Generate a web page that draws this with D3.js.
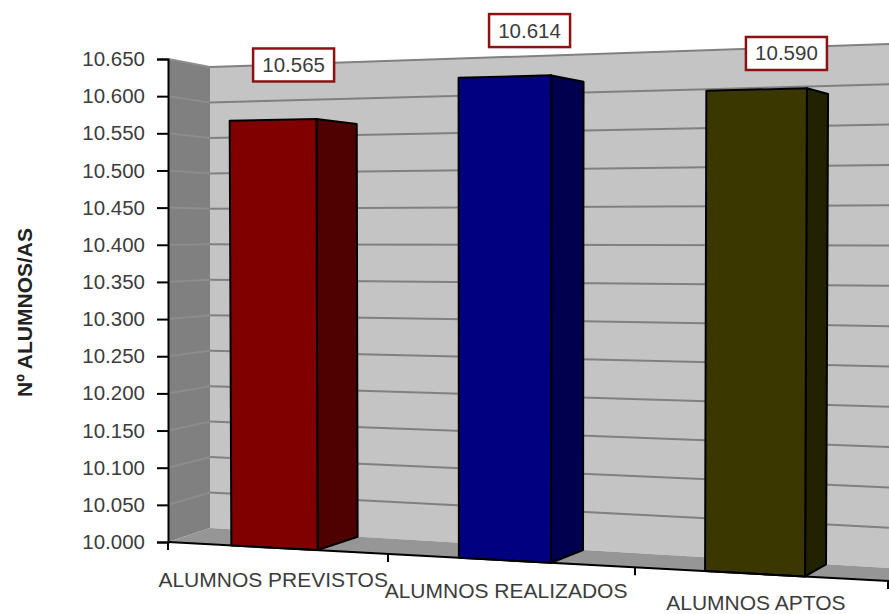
<!DOCTYPE html>
<html>
<head>
<meta charset="utf-8">
<script src="https://cdn.jsdelivr.net/npm/d3@7"></script>
<style>
  html, body { margin: 0; padding: 0; background: #fff; overflow: hidden; }
  text { font-family: "Liberation Sans", Arial, sans-serif; }
</style>
</head>
<body>
<svg id="chart" width="889" height="614"></svg>
<script>
// ============ data ============
const categories = ['ALUMNOS PREVISTOS', 'ALUMNOS REALIZADOS', 'ALUMNOS APTOS'];
const values = [10565, 10614, 10590];
const yTicks = [10000, 10050, 10100, 10150, 10200, 10250, 10300, 10350, 10400, 10450, 10500, 10550, 10600, 10650];

const frontColors = ['#800000', '#000080', '#3a3800'];
const sideColors = ['#4f0000', '#00004f', '#222200'];

const width = 889;
const height = 614;
const svg = d3.select('#chart');

const fmt = d3.formatLocale({ decimal: ',', thousands: '.', grouping: [3], currency: ['', ''] }).format(',.0f');

// ============ fake 3D projection ============
// value -> height fraction
const frac = d3.scaleLinear().domain([10000, 10650]).range([0, 1]);
// category slot -> x on the front edge of the floor
const xSlot = d3.scaleLinear().domain([0, 1, 2, 3]).range([168, 388, 635, 888]);
// front x -> x where the same point meets the back wall
const toBack = d3.scaleLinear().domain([168, 318, 551, 805]).range([210, 358, 583, 826]);

const frontBase = d3.scaleLinear().domain([168, 889]).range([542, 581]);
const frontTop = d3.scaleLinear().domain([168, 889]).range([59, 36]);
const backBase = d3.scaleLinear().domain([210, 889]).range([528, 568]);
const backTop = d3.scaleLinear().domain([210, 889]).range([67, 44]);

const frontY = (x, v) => d3.interpolateNumber(frontBase(x), frontTop(x))(frac(v));
const backY = (x, v) => d3.interpolateNumber(backBase(x), backTop(x))(frac(v));

const path = d3.line();
const poly = pts => path(pts) + 'Z';

// ============ walls and floor ============
const vMin = yTicks[0];
const vMax = yTicks[yTicks.length - 1];
const xL = xSlot(0);
const xB = toBack(xL);
const xR = width + 2;

svg.append('path').attr('fill', '#c4c4c4')
  .attr('d', poly([[xB, backY(xB, vMax)], [xR, backY(xR, vMax)], [xR, backY(xR, vMin)], [xB, backY(xB, vMin)]]));
svg.append('path').attr('fill', '#808080')
  .attr('d', poly([[xL, frontY(xL, vMax)], [xB, backY(xB, vMax)], [xB, backY(xB, vMin)], [xL, frontY(xL, vMin)]]));
svg.append('path').attr('fill', '#969696')
  .attr('d', poly([[xL, frontY(xL, vMin)], [xB, backY(xB, vMin)], [xR, backY(xR, vMin)], [xR, frontY(xR, vMin)]]));

// gridlines on back wall and side wall
svg.append('g').selectAll('line')
  .data(yTicks.slice(1))
  .join('line')
  .attr('x1', xB).attr('y1', d => backY(xB, d))
  .attr('x2', xR).attr('y2', d => backY(xR, d))
  .attr('stroke', '#808080').attr('stroke-width', 2);
svg.append('g').selectAll('line')
  .data(yTicks.slice(1))
  .join('line')
  .attr('x1', xL).attr('y1', d => frontY(xL, d))
  .attr('x2', xB).attr('y2', d => backY(xB, d))
  .attr('stroke', '#8c8c8c').attr('stroke-width', 2);

// ============ bars ============
const barStart = [0.288, 0.287, 0.277];
const barEnd = [0.68, 0.66, 0.672];
const leanAt = 505;
const lean = (x, v) => x + (x - leanAt) * 0.007 * frac(v);

categories.forEach((name, i) => {
  const v = values[i];
  const slotW = xSlot(i + 1) - xSlot(i);
  const x0 = xSlot(i) + slotW * barStart[i];
  const x1 = xSlot(i) + slotW * barEnd[i];
  const bx = toBack(x1);

  // side face
  svg.append('path')
    .attr('d', poly([[lean(x1, v), frontY(x1, v)], [lean(bx, v), backY(bx, v)], [bx, backY(bx, vMin)], [x1, frontY(x1, vMin)]]))
    .attr('fill', sideColors[i]).attr('stroke', '#000').attr('stroke-width', 2).attr('stroke-linejoin', 'round');
  // front face
  svg.append('path')
    .attr('d', poly([[lean(x0, v), frontY(x0, v)], [lean(x1, v), frontY(x1, v)], [x1, frontY(x1, vMin)], [x0, frontY(x0, vMin)]]))
    .attr('fill', frontColors[i]).attr('stroke', '#000').attr('stroke-width', 2).attr('stroke-linejoin', 'round');
});

// ============ axes ============
const yAxisScale = d3.scaleLinear().domain([vMin, vMax]).range([frontY(xL, vMin), frontY(xL, vMax)]);
const yAxis = svg.append('g')
  .attr('transform', `translate(${xL},0)`)
  .call(d3.axisLeft(yAxisScale).tickValues(yTicks).tickFormat(fmt).tickSize(11).tickPadding(12));
yAxis.select('.domain').attr('stroke', '#000').attr('stroke-width', 2);
yAxis.selectAll('.tick line').attr('stroke', '#000').attr('stroke-width', 2);
yAxis.selectAll('.tick text').attr('font-size', 20.5).attr('fill', '#3c3c3c')
  .attr('font-family', '"Liberation Sans", Arial, sans-serif');

// category axis runs along the front edge of the floor
svg.append('line')
  .attr('x1', xL).attr('y1', frontY(xL, vMin))
  .attr('x2', xR).attr('y2', frontY(xR, vMin))
  .attr('stroke', '#000').attr('stroke-width', 2);
svg.append('g').selectAll('line')
  .data(d3.range(categories.length + 1))
  .join('line')
  .attr('x1', d => xSlot(d)).attr('x2', d => xSlot(d))
  .attr('y1', d => frontY(xSlot(d), vMin))
  .attr('y2', d => frontY(xSlot(d), vMin) + 8)
  .attr('stroke', '#000').attr('stroke-width', 2);

// label baseline drifts down less steeply than the axis
const catX = i => xSlot(i) + (xSlot(i + 1) - xSlot(i)) * 0.478;
const catBase = d3.scaleLinear().domain([273, 756]).range([587, 610]);

svg.append('g').selectAll('text')
  .data(categories)
  .join('text')
  .attr('x', (d, i) => catX(i))
  .attr('y', (d, i) => catBase(catX(i)))
  .attr('text-anchor', 'middle')
  .attr('font-size', 21)
  .attr('fill', '#3c3c3c')
  .text(d => d);

// axis title
svg.append('text')
  .attr('transform', 'translate(32,312.5) rotate(-90)')
  .attr('text-anchor', 'middle')
  .attr('font-size', 21)
  .attr('font-weight', 'bold')
  .attr('fill', '#222')
  .text('Nº ALUMNOS/AS');

// ============ value labels ============
const labelDx = [20, 23, 30];
const labelDy = [-55, -46, -36];
const boxW = 81;
const boxH = 33;

values.forEach((v, i) => {
  const base = xSlot(i) + (xSlot(i + 1) - xSlot(i)) * 0.48;
  const cx = base + labelDx[i];
  const cy = frontY(base, v) + labelDy[i];
  svg.append('rect')
    .attr('x', cx - boxW / 2).attr('y', cy - boxH / 2)
    .attr('width', boxW).attr('height', boxH)
    .attr('fill', '#fff').attr('stroke', '#8b1212').attr('stroke-width', 2.5);
  svg.append('text')
    .attr('x', cx).attr('y', cy + 7)
    .attr('text-anchor', 'middle')
    .attr('font-size', 20.5)
    .attr('fill', '#3c3c3c')
    .text(fmt(v));
});
</script>
</body>
</html>
